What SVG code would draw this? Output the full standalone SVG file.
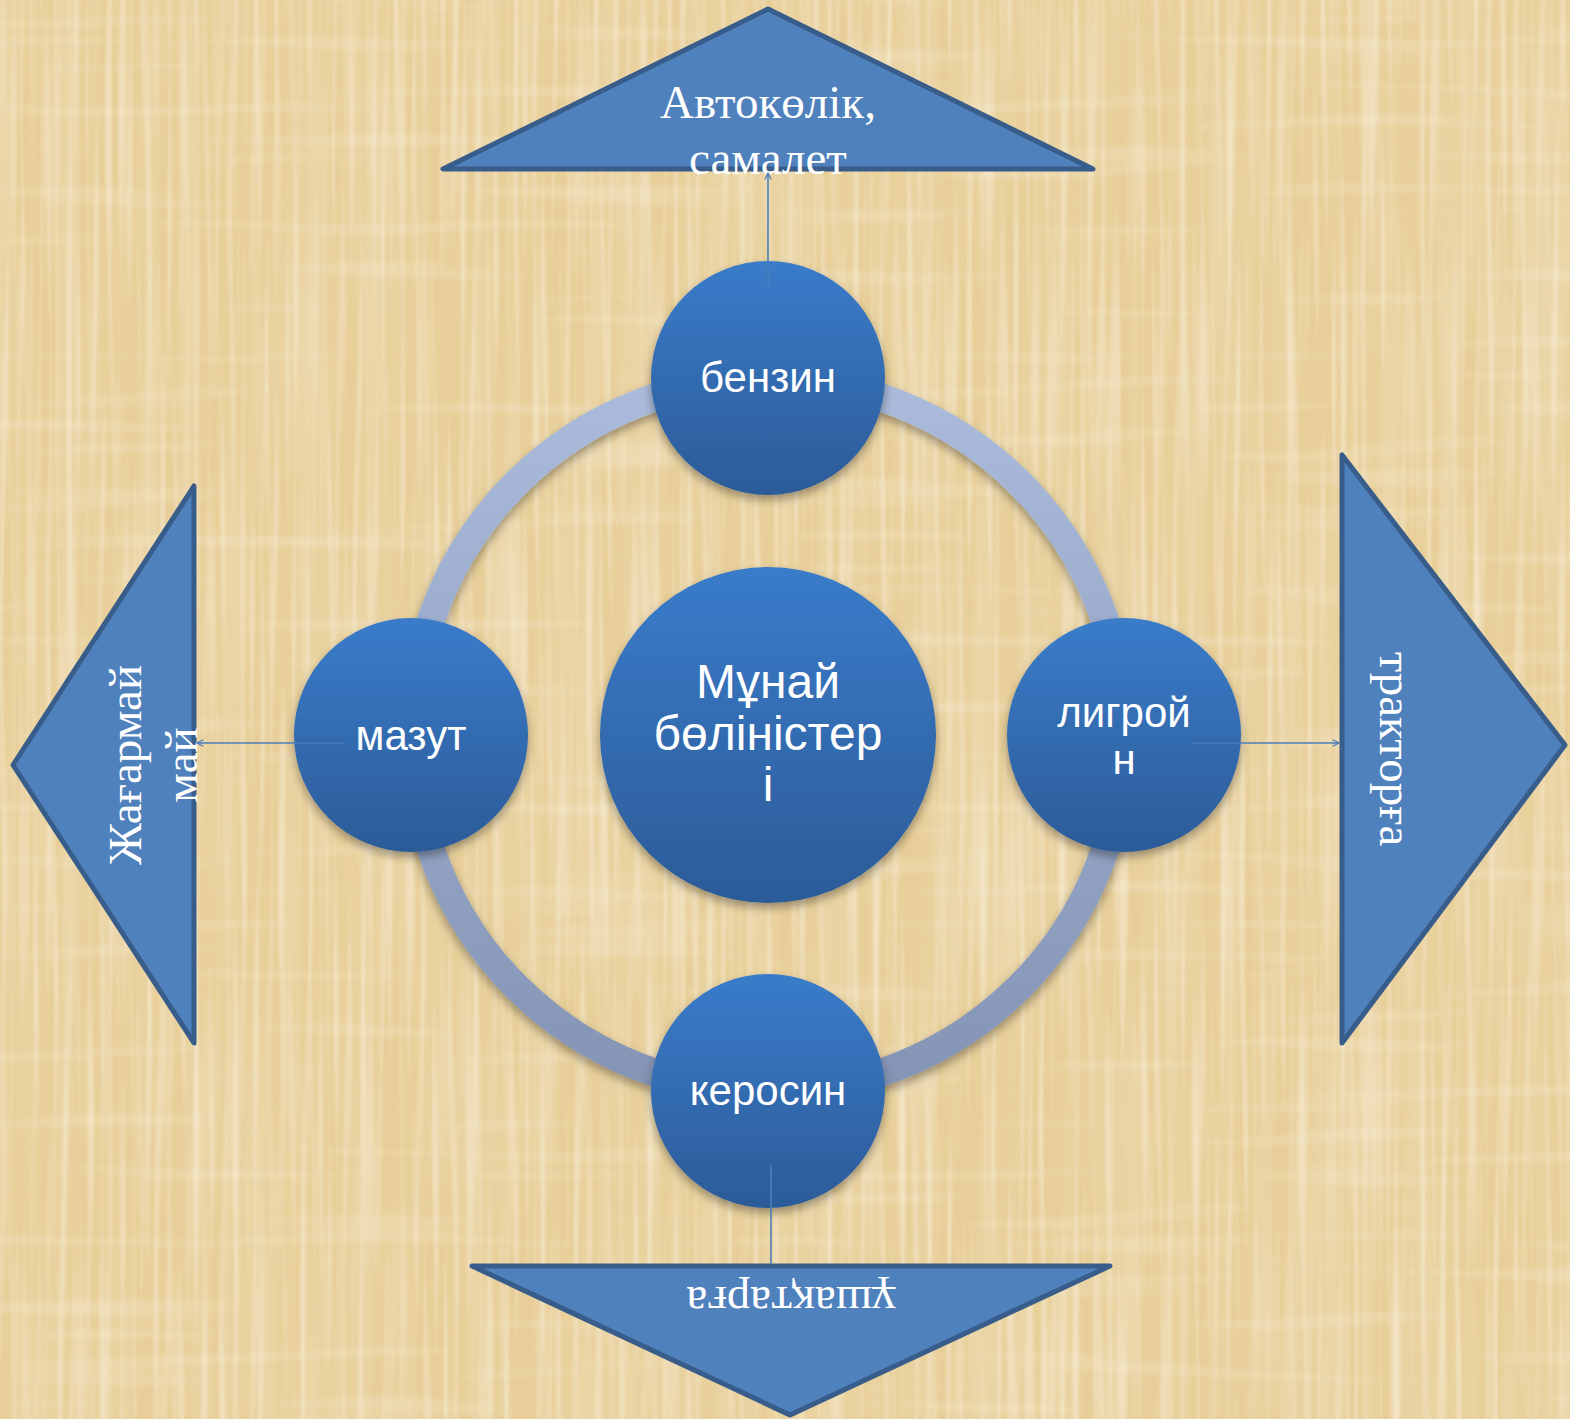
<svg xmlns="http://www.w3.org/2000/svg" width="1570" height="1419" viewBox="0 0 1570 1419">
<defs>
  <filter id="paper" x="0" y="0" width="100%" height="100%" filterUnits="userSpaceOnUse">
    <feTurbulence type="fractalNoise" baseFrequency="0.05 0.002" numOctaves="2" seed="4" result="v"/>
    <feColorMatrix in="v" type="matrix" values="0 0 0 0 0.84  0 0 0 0 0.71  0 0 0 0 0.45  1.4 0 0 0 -0.55" result="vc"/>
    <feTurbulence type="fractalNoise" baseFrequency="0.15 0.004" numOctaves="1" seed="7" result="v2"/>
    <feColorMatrix in="v2" type="matrix" values="0 0 0 0 0.97  0 0 0 0 0.90  0 0 0 0 0.74  1.4 0 0 0 -0.65" result="v2c"/>
    <feTurbulence type="fractalNoise" baseFrequency="0.004 0.06" numOctaves="1" seed="9" result="h"/>
    <feColorMatrix in="h" type="matrix" values="0 0 0 0 0.96  0 0 0 0 0.89  0 0 0 0 0.72  1.0 0 0 0 -0.55" result="hc"/>
    <feMerge>
      <feMergeNode in="SourceGraphic"/>
      <feMergeNode in="vc"/>
      <feMergeNode in="v2c"/>
      <feMergeNode in="hc"/>
    </feMerge>
  </filter>
  <linearGradient id="circleFill" x1="0" y1="0" x2="0" y2="1">
    <stop offset="0" stop-color="#3A7CCA"/>
    <stop offset="1" stop-color="#2C5B98"/>
  </linearGradient>
  <linearGradient id="ringFill" x1="0" y1="0" x2="0" y2="1">
    <stop offset="0" stop-color="#AABBDB"/>
    <stop offset="1" stop-color="#8494B4"/>
  </linearGradient>
  <filter id="shadow" x="-20%" y="-20%" width="140%" height="150%">
    <feDropShadow dx="0" dy="5" stdDeviation="5" flood-color="#000" flood-opacity="0.35"/>
  </filter>
  <marker id="arrow" viewBox="0 0 10 10" refX="9" refY="5" markerWidth="8" markerHeight="8" markerUnits="userSpaceOnUse" orient="auto">
    <path d="M1,1 L9,5 L1,9" fill="none" stroke="#4A7EBB" stroke-width="1.5"/>
  </marker>
  <style>
    .tri { fill: #4F81BD; stroke: #385D8A; stroke-width: 5; stroke-linejoin: round; }
    .circ { fill: url(#circleFill); filter: url(#shadow); }
    .ttext { font-family: "Liberation Serif", "Times New Roman", serif; font-size: 47px; fill: #FFFFFF; text-anchor: middle; }
    .ctext { font-family: "Liberation Sans", Arial, sans-serif; font-size: 42px; fill: #FFFFFF; text-anchor: middle; }
    .mtext { font-family: "Liberation Sans", Arial, sans-serif; font-size: 48px; fill: #FFFFFF; text-anchor: middle; }
    .conn { stroke: #4A7EBB; stroke-width: 1.6; fill: none; }
  </style>
</defs>

<rect width="1570" height="1419" fill="#E8CF99" filter="url(#paper)"/>

<g id="ring">
  <circle cx="768" cy="735" r="356" fill="none" stroke="url(#ringFill)" stroke-width="28" filter="url(#shadow)"/>
</g>

<g id="tri-top">
  <polygon class="tri" points="768,9 443,169 1093,169"/>
  <text class="ttext" x="768" y="118">Автокөлік,</text>
  <text class="ttext" x="768" y="174">самалет</text>
</g>

<g id="tri-left">
  <polygon class="tri" points="194,486 194,1043 13,765"/>
  <text class="ttext" transform="translate(141,765) rotate(-90)">Жағармай</text>
  <text class="ttext" transform="translate(197,765) rotate(-90)">май</text>
</g>

<g id="tri-right">
  <polygon class="tri" points="1342,455 1342,1043 1565,745"/>
  <text class="ttext" transform="translate(1380,749) rotate(90)">тракторға</text>
</g>

<g id="tri-bottom">
  <polygon class="tri" points="472,1266 1110,1266 790,1415"/>
  <text class="ttext" transform="translate(791,1287) rotate(180)">ұшақтарға</text>
</g>

<g id="node-center">
  <circle class="circ" cx="768" cy="735" r="168"/>
  <text class="mtext" x="768" y="698">Мұнай</text>
  <text class="mtext" x="768" y="750">бөліністер</text>
  <text class="mtext" x="768" y="801">і</text>
</g>

<g id="node-benzin">
  <circle class="circ" cx="768" cy="378" r="117"/>
  <text class="ctext" x="768" y="392">бензин</text>
</g>

<g id="node-mazut">
  <circle class="circ" cx="411" cy="735" r="117"/>
  <text class="ctext" x="411" y="750">мазут</text>
</g>

<g id="node-ligroin">
  <circle class="circ" cx="1124" cy="735" r="117"/>
  <text class="ctext" x="1124" y="727">лигрой</text>
  <text class="ctext" x="1124" y="774">н</text>
</g>

<g id="node-kerosin">
  <circle class="circ" cx="768" cy="1091" r="117"/>
  <text class="ctext" x="768" y="1105">керосин</text>
</g>

<g id="connectors">
  <line class="conn" x1="768" y1="287" x2="768" y2="173" marker-end="url(#arrow)"/>
  <line class="conn" x1="345" y1="743" x2="197" y2="743" marker-end="url(#arrow)"/>
  <line class="conn" x1="1192" y1="743" x2="1339" y2="743" marker-end="url(#arrow)"/>
  <line class="conn" x1="771" y1="1165" x2="771" y2="1264"/>
</g>
</svg>
